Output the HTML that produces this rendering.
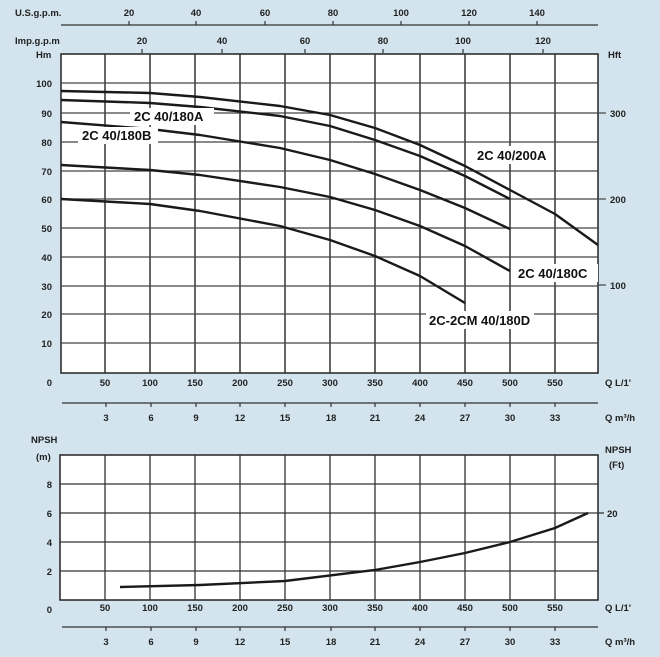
<!DOCTYPE html><html><head><style>body{margin:0;background:#d3e4ee}svg{display:block}text{font-family:"Liberation Sans",sans-serif;font-weight:bold;font-size:9.5px;fill:#222}.l{font-size:13px;fill:#111}</style></head><body>
<svg width="660" height="657" viewBox="0 0 660 657">
<rect width="660" height="657" fill="#d3e4ee"/>
<!-- top axes -->
<line x1="61" y1="25" x2="598" y2="25" stroke="#333" stroke-width="1.2"/>
<g stroke="#333" stroke-width="1.2">
<line x1="129" y1="21" x2="129" y2="25"/><line x1="196" y1="21" x2="196" y2="25"/><line x1="265" y1="21" x2="265" y2="25"/><line x1="333" y1="21" x2="333" y2="25"/><line x1="401" y1="21" x2="401" y2="25"/><line x1="469" y1="21" x2="469" y2="25"/><line x1="537" y1="21" x2="537" y2="25"/>
<line x1="142" y1="49" x2="142" y2="53"/><line x1="222" y1="49" x2="222" y2="53"/><line x1="305" y1="49" x2="305" y2="53"/><line x1="383" y1="49" x2="383" y2="53"/><line x1="463" y1="49" x2="463" y2="53"/><line x1="543" y1="49" x2="543" y2="53"/>
</g>
<text x="15" y="16">U.S.g.p.m.</text><text x="15" y="44">Imp.g.p.m</text>
<g text-anchor="middle"><text x="129" y="16">20</text><text x="196" y="16">40</text><text x="265" y="16">60</text><text x="333" y="16">80</text><text x="401" y="16">100</text><text x="469" y="16">120</text><text x="537" y="16">140</text>
<text x="142" y="44">20</text><text x="222" y="44">40</text><text x="305" y="44">60</text><text x="383" y="44">80</text><text x="463" y="44">100</text><text x="543" y="44">120</text></g>
<text x="36" y="58">Hm</text><text x="608" y="58">Hft</text>
<!-- main chart -->
<rect x="61" y="54" width="537" height="319" fill="#fff" stroke="#222" stroke-width="1.5"/>
<g stroke="#333" stroke-width="1.5">
<line x1="105" y1="54" x2="105" y2="373"/><line x1="150" y1="54" x2="150" y2="373"/><line x1="195" y1="54" x2="195" y2="373"/><line x1="240" y1="54" x2="240" y2="373"/><line x1="285" y1="54" x2="285" y2="373"/><line x1="330" y1="54" x2="330" y2="373"/><line x1="375" y1="54" x2="375" y2="373"/><line x1="420" y1="54" x2="420" y2="373"/><line x1="465" y1="54" x2="465" y2="373"/><line x1="510" y1="54" x2="510" y2="373"/><line x1="555" y1="54" x2="555" y2="373"/>
</g>
<g stroke="#444" stroke-width="1.2">
<line x1="61" y1="83" x2="598" y2="83"/><line x1="61" y1="113" x2="598" y2="113"/><line x1="61" y1="142" x2="598" y2="142"/><line x1="61" y1="171" x2="598" y2="171"/><line x1="61" y1="199" x2="598" y2="199"/><line x1="61" y1="228" x2="598" y2="228"/><line x1="61" y1="257" x2="598" y2="257"/><line x1="61" y1="286" x2="598" y2="286"/><line x1="61" y1="314" x2="598" y2="314"/><line x1="61" y1="343" x2="598" y2="343"/>
<line x1="598" y1="113" x2="606" y2="113"/><line x1="598" y1="199" x2="606" y2="199"/><line x1="598" y1="285" x2="606" y2="285"/>
</g>
<g text-anchor="end"><text x="52" y="87">100</text><text x="52" y="117">90</text><text x="52" y="146">80</text><text x="52" y="175">70</text><text x="52" y="203">60</text><text x="52" y="232">50</text><text x="52" y="261">40</text><text x="52" y="290">30</text><text x="52" y="318">20</text><text x="52" y="347">10</text><text x="52" y="386">0</text></g>
<text x="610" y="117">300</text><text x="610" y="203">200</text><text x="610" y="289">100</text>
<g fill="none" stroke="#1a1a1a" stroke-width="2.4" stroke-linejoin="round">
<polyline points="61,91 150,93 200,97 280,106 330,115 375,128 420,145 465,166 510,190 555,214 598,245"/>
<polyline points="61,100 150,103 200,107 280,116 330,126 375,140 420,156 465,176 510,199"/>
<polyline points="61,122 150,129 200,135 280,148 330,160 375,174 420,190 465,208 510,229"/>
<polyline points="61,165 150,170 200,175 280,187 330,197 375,210 420,226 465,246 510,271"/>
<polyline points="61,199 150,204 200,211 280,226 330,240 375,256 420,276 465,303"/>
</g>
<g fill="#fff"><rect x="130" y="108" width="84" height="17"/><rect x="78" y="127" width="80" height="17"/><rect x="472" y="146" width="82" height="18"/><rect x="514" y="264" width="84" height="18"/><rect x="426" y="311" width="108" height="18"/></g>
<text class="l" x="134" y="121">2C 40/180A</text><text class="l" x="82" y="140">2C 40/180B</text><text class="l" x="477" y="160">2C 40/200A</text><text class="l" x="518" y="278">2C 40/180C</text><text class="l" x="429" y="325">2C-2CM 40/180D</text>
<!-- main x axis -->
<g text-anchor="middle"><text x="105" y="386">50</text><text x="150" y="386">100</text><text x="195" y="386">150</text><text x="240" y="386">200</text><text x="285" y="386">250</text><text x="330" y="386">300</text><text x="375" y="386">350</text><text x="420" y="386">400</text><text x="465" y="386">450</text><text x="510" y="386">500</text><text x="555" y="386">550</text>
<text x="106" y="421">3</text><text x="151" y="421">6</text><text x="196" y="421">9</text><text x="240" y="421">12</text><text x="285" y="421">15</text><text x="331" y="421">18</text><text x="375" y="421">21</text><text x="420" y="421">24</text><text x="465" y="421">27</text><text x="510" y="421">30</text><text x="555" y="421">33</text></g>
<text x="605" y="386">Q L/1'</text><text x="605" y="421">Q m³/h</text>
<line x1="62" y1="403" x2="598" y2="403" stroke="#333" stroke-width="1.2"/>
<g stroke="#333" stroke-width="1.2"><line x1="106" y1="403" x2="106" y2="407"/><line x1="151" y1="403" x2="151" y2="407"/><line x1="196" y1="403" x2="196" y2="407"/><line x1="240" y1="403" x2="240" y2="407"/><line x1="285" y1="403" x2="285" y2="407"/><line x1="331" y1="403" x2="331" y2="407"/><line x1="375" y1="403" x2="375" y2="407"/><line x1="420" y1="403" x2="420" y2="407"/><line x1="465" y1="403" x2="465" y2="407"/><line x1="510" y1="403" x2="510" y2="407"/><line x1="555" y1="403" x2="555" y2="407"/></g>
<!-- NPSH chart -->
<text x="31" y="443">NPSH</text><text x="36" y="460">(m)</text><text x="605" y="453">NPSH</text><text x="609" y="468">(Ft)</text>
<rect x="60" y="455" width="538" height="145" fill="#fff" stroke="#222" stroke-width="1.5"/>
<g stroke="#333" stroke-width="1.3">
<line x1="105" y1="455" x2="105" y2="600"/><line x1="150" y1="455" x2="150" y2="600"/><line x1="195" y1="455" x2="195" y2="600"/><line x1="240" y1="455" x2="240" y2="600"/><line x1="285" y1="455" x2="285" y2="600"/><line x1="330" y1="455" x2="330" y2="600"/><line x1="375" y1="455" x2="375" y2="600"/><line x1="420" y1="455" x2="420" y2="600"/><line x1="465" y1="455" x2="465" y2="600"/><line x1="510" y1="455" x2="510" y2="600"/><line x1="555" y1="455" x2="555" y2="600"/>
<line x1="60" y1="484" x2="598" y2="484"/><line x1="60" y1="513" x2="598" y2="513"/><line x1="60" y1="542" x2="598" y2="542"/><line x1="60" y1="571" x2="598" y2="571"/><line x1="598" y1="513" x2="604" y2="513"/>
</g>
<g text-anchor="end"><text x="52" y="488">8</text><text x="52" y="517">6</text><text x="52" y="546">4</text><text x="52" y="575">2</text><text x="52" y="613">0</text></g>
<text x="607" y="517">20</text>
<polyline points="120,587 200,585 285,581 375,570 420,562 465,553 510,542 555,528 588,513" fill="none" stroke="#1a1a1a" stroke-width="2.4"/>
<g text-anchor="middle"><text x="105" y="611">50</text><text x="150" y="611">100</text><text x="195" y="611">150</text><text x="240" y="611">200</text><text x="285" y="611">250</text><text x="330" y="611">300</text><text x="375" y="611">350</text><text x="420" y="611">400</text><text x="465" y="611">450</text><text x="510" y="611">500</text><text x="555" y="611">550</text>
<text x="106" y="645">3</text><text x="151" y="645">6</text><text x="196" y="645">9</text><text x="240" y="645">12</text><text x="285" y="645">15</text><text x="331" y="645">18</text><text x="375" y="645">21</text><text x="420" y="645">24</text><text x="465" y="645">27</text><text x="510" y="645">30</text><text x="555" y="645">33</text></g>
<text x="605" y="611">Q L/1'</text><text x="605" y="645">Q m³/h</text>
<line x1="62" y1="627" x2="598" y2="627" stroke="#333" stroke-width="1.2"/>
<g stroke="#333" stroke-width="1.2"><line x1="106" y1="627" x2="106" y2="631"/><line x1="151" y1="627" x2="151" y2="631"/><line x1="196" y1="627" x2="196" y2="631"/><line x1="240" y1="627" x2="240" y2="631"/><line x1="285" y1="627" x2="285" y2="631"/><line x1="331" y1="627" x2="331" y2="631"/><line x1="375" y1="627" x2="375" y2="631"/><line x1="420" y1="627" x2="420" y2="631"/><line x1="465" y1="627" x2="465" y2="631"/><line x1="510" y1="627" x2="510" y2="631"/><line x1="555" y1="627" x2="555" y2="631"/></g>
</svg></body></html>
